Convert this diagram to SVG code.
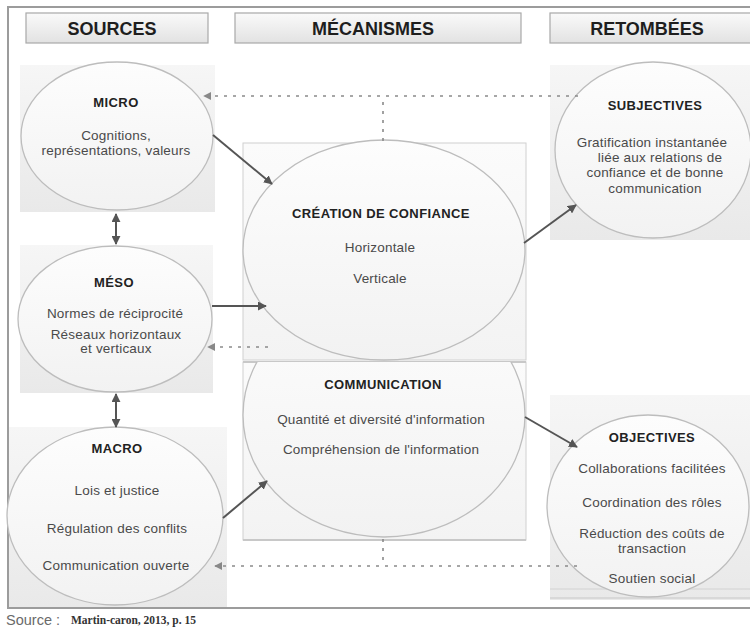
<svg xmlns="http://www.w3.org/2000/svg" width="750" height="631" viewBox="0 0 750 631">
<style>
  text { font-family: "Liberation Sans", Arial, sans-serif; text-anchor: middle; }
  .hdr { font-size: 18px; font-weight: bold; fill: #1e1e1e; }
  .ttl { font-size: 13px; font-weight: bold; fill: #222; letter-spacing: 0.4px; }
  .txt { font-size: 13.5px; fill: #4a4a4a; letter-spacing: 0.2px; }
  .panel { fill: url(#panelGrad); stroke: none; }
  .ell { fill: url(#ellGrad); stroke: #bdbdbd; stroke-width: 1.3; }
  .hbox { fill: url(#hdrGrad); stroke: #a8a8a8; stroke-width: 1.2; }
  .solid { stroke: #555; stroke-width: 2; fill: none; }
  .dash { stroke: #8a8a8a; stroke-width: 1.6; fill: none; stroke-dasharray: 3 6; }
</style>
<defs>
  <linearGradient id="panelGrad" x1="0" y1="0" x2="0" y2="1">
    <stop offset="0" stop-color="#f6f6f6"/>
    <stop offset="1" stop-color="#e9e9e9"/>
  </linearGradient>
  <linearGradient id="panelGradLight" x1="0" y1="0" x2="0" y2="1">
    <stop offset="0" stop-color="#fbfbfb"/>
    <stop offset="1" stop-color="#f3f3f3"/>
  </linearGradient>
  <linearGradient id="ellGrad" x1="0" y1="0" x2="0" y2="1">
    <stop offset="0" stop-color="#fdfdfd"/>
    <stop offset="1" stop-color="#f2f2f2"/>
  </linearGradient>
  <linearGradient id="hdrGrad" x1="0" y1="0" x2="0" y2="1">
    <stop offset="0" stop-color="#fafafa"/>
    <stop offset="1" stop-color="#e2e2e2"/>
  </linearGradient>
  <marker id="arr" viewBox="0 0 10 10" refX="9" refY="5" markerWidth="4.5" markerHeight="4.5" orient="auto-start-reverse">
    <path d="M0,0 L10,5 L0,10 z" fill="#555"/>
  </marker>
  <marker id="darr" viewBox="0 0 10 10" refX="9" refY="5" markerWidth="5" markerHeight="5" orient="auto">
    <path d="M0,0 L10,5 L0,10 z" fill="#888"/>
  </marker>
  <clipPath id="commClip">
    <rect x="230" y="362" width="310" height="180"/>
  </clipPath>
</defs>

<!-- frame -->
<rect x="0" y="0" width="750" height="631" fill="#ffffff"/>
<path d="M750,7 H8 V608 H750" fill="none" stroke="#9c9c9c" stroke-width="2"/>

<!-- headers -->
<g id="hdr-sources">
  <rect class="hbox" x="26" y="13" width="182" height="30"/>
  <text class="hdr" x="112" y="35">SOURCES</text>
</g>
<g id="hdr-mecanismes">
  <rect class="hbox" x="235" y="13" width="286" height="30"/>
  <text class="hdr" x="373" y="35">MÉCANISMES</text>
</g>
<g id="hdr-retombees">
  <rect class="hbox" x="550" y="13" width="210" height="30"/>
  <text class="hdr" x="647" y="35">RETOMBÉES</text>
</g>

<!-- SOURCES -->
<g id="micro">
  <rect class="panel" x="20" y="65" width="195" height="147"/>
  <ellipse class="ell" cx="117" cy="136" rx="96" ry="74"/>
  <text class="ttl" x="116" y="107">MICRO</text>
  <text class="txt" x="116" y="140">Cognitions,</text>
  <text class="txt" x="116" y="155">représentations, valeurs</text>
</g>
<g id="meso">
  <rect class="panel" x="20" y="245" width="193" height="148"/>
  <ellipse class="ell" cx="115" cy="319" rx="97" ry="73"/>
  <text class="ttl" x="114" y="287">MÉSO</text>
  <text class="txt" x="115" y="318">Normes de réciprocité</text>
  <text class="txt" x="116" y="339">Réseaux horizontaux</text>
  <text class="txt" x="116" y="353">et verticaux</text>
</g>
<g id="macro">
  <rect class="panel" x="9" y="427" width="218" height="180"/>
  <ellipse class="ell" cx="115" cy="516" rx="108" ry="89"/>
  <text class="ttl" x="117" y="453">MACRO</text>
  <text class="txt" x="117" y="495">Lois et justice</text>
  <text class="txt" x="117" y="533">Régulation des conflits</text>
  <text class="txt" x="116" y="570">Communication ouverte</text>
</g>

<!-- MECANISMES -->
<g id="creation">
  <rect x="243" y="143" width="283" height="217" fill="url(#panelGradLight)" stroke="#d0d0d0" stroke-width="1"/>
  <ellipse class="ell" cx="384" cy="250" rx="141" ry="110"/>
  <text class="ttl" x="381" y="218">CRÉATION DE CONFIANCE</text>
  <text class="txt" x="380" y="252">Horizontale</text>
  <text class="txt" x="380" y="283">Verticale</text>
</g>
<g id="communication">
  <rect x="243" y="362" width="283" height="178" fill="url(#panelGradLight)" stroke="#d0d0d0" stroke-width="1"/>
  <line x1="243" y1="362" x2="526" y2="362" stroke="#c8c8c8" stroke-width="2"/>
  <line x1="243" y1="540" x2="526" y2="540" stroke="#c8c8c8" stroke-width="2"/>
  <ellipse class="ell" cx="384" cy="415" rx="141" ry="122" clip-path="url(#commClip)"/>
  <text class="ttl" x="383" y="389">COMMUNICATION</text>
  <text class="txt" x="381" y="424">Quantité et diversité d'information</text>
  <text class="txt" x="381" y="454">Compréhension de l'information</text>
</g>

<!-- RETOMBEES -->
<g id="subjectives">
  <rect class="panel" x="550" y="65" width="200" height="175"/>
  <ellipse class="ell" cx="653" cy="150" rx="98" ry="88"/>
  <text class="ttl" x="655" y="110">SUBJECTIVES</text>
  <text class="txt" x="652" y="147">Gratification instantanée</text>
  <text class="txt" x="660" y="162">liée aux relations de</text>
  <text class="txt" x="655" y="177">confiance et de bonne</text>
  <text class="txt" x="655" y="193">communication</text>
</g>
<g id="objectives">
  <rect class="panel" x="550" y="395" width="200" height="205"/>
  <line x1="550" y1="589" x2="750" y2="589" stroke="#d2d2d2" stroke-width="1"/>
  <line x1="550" y1="598" x2="750" y2="598" stroke="#d2d2d2" stroke-width="1.5"/>
  <ellipse class="ell" cx="648" cy="506" rx="101" ry="91"/>
  <text class="ttl" x="652" y="442">OBJECTIVES</text>
  <text class="txt" x="652" y="473">Collaborations facilitées</text>
  <text class="txt" x="652" y="507">Coordination des rôles</text>
  <text class="txt" x="652" y="538">Réduction des coûts de</text>
  <text class="txt" x="652" y="553">transaction</text>
  <text class="txt" x="652" y="583">Soutien social</text>
</g>

<!-- connectors -->
<g id="connectors">
  <line class="solid" x1="213" y1="135" x2="272" y2="184" marker-end="url(#arr)"/>
  <line class="solid" x1="212" y1="306" x2="266" y2="306" marker-end="url(#arr)"/>
  <line class="solid" x1="223" y1="518" x2="267" y2="481" marker-end="url(#arr)"/>
  <line class="solid" x1="524" y1="243" x2="576" y2="205" marker-end="url(#arr)"/>
  <line class="solid" x1="525" y1="417" x2="577" y2="447" marker-end="url(#arr)"/>
  <line class="solid" x1="116" y1="214" x2="116" y2="244" marker-start="url(#arr)" marker-end="url(#arr)"/>
  <line class="solid" x1="116" y1="394" x2="116" y2="427" marker-start="url(#arr)" marker-end="url(#arr)"/>
  <path class="dash" d="M383,141 V96"/>
  <path class="dash" d="M578,96 H204" marker-end="url(#darr)"/>
  <path class="dash" d="M268,347 H208" marker-end="url(#darr)"/>
  <path class="dash" d="M383,539 V566"/>
  <path class="dash" d="M577,566 H215" marker-end="url(#darr)"/>
</g>

<!-- source -->
<text x="6" y="625" style="text-anchor:start; font-size:14.5px; fill:#6a6a6a;">Source :</text>
<text x="71" y="624" style="text-anchor:start; font-size:11.5px; font-weight:bold; fill:#333; font-family:'Liberation Serif', serif;">Martin-caron, 2013, p. 15</text>
</svg>
